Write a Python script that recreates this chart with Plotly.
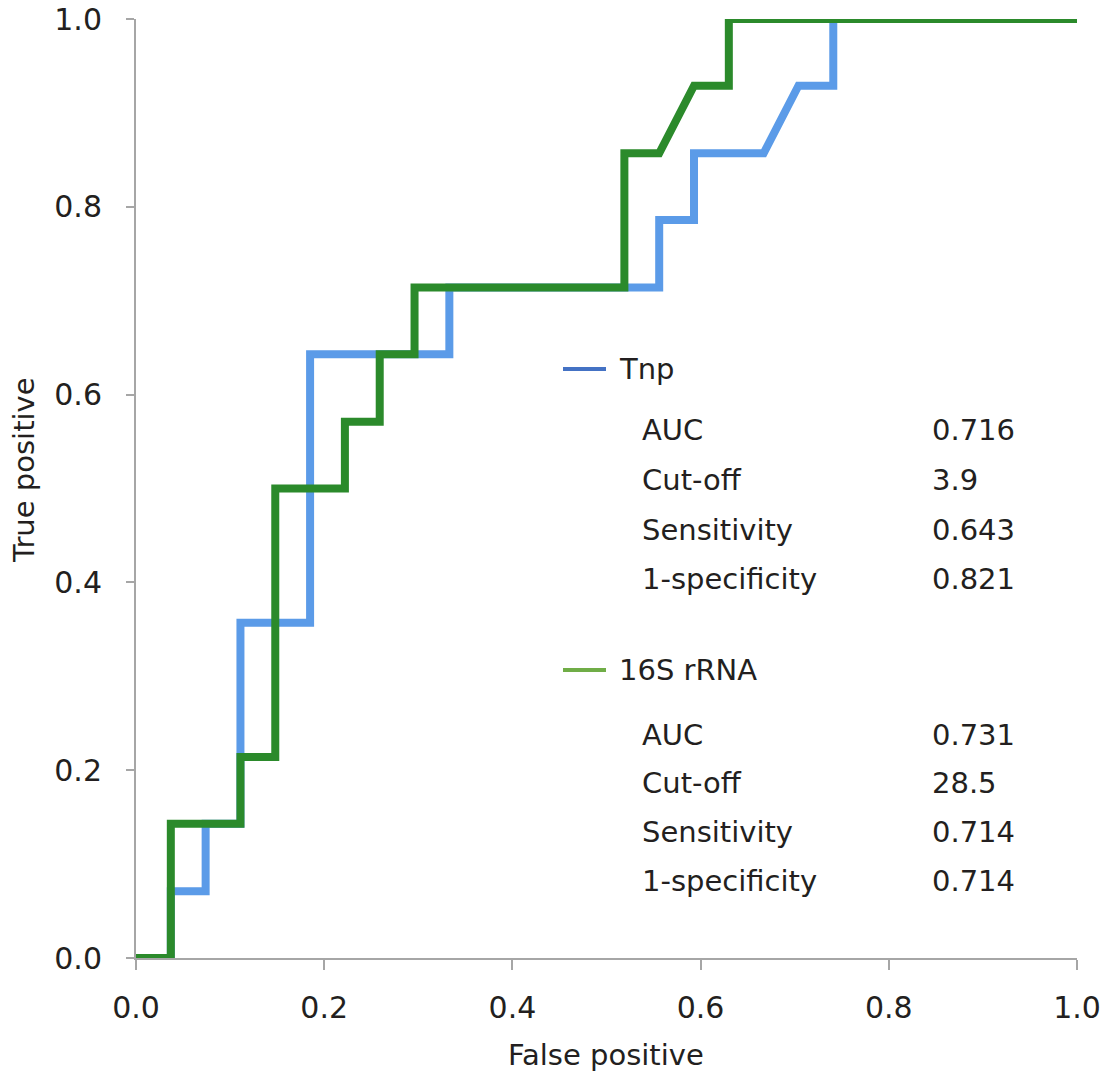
import plotly.graph_objects as go

# ROC step data (false positive rate, true positive rate)
tnp_fpr = [0, 0.037, 0.037, 0.074, 0.074, 0.111, 0.111, 0.185, 0.185, 0.333, 0.333,
           0.556, 0.556, 0.593, 0.593, 0.667, 0.704, 0.741, 0.741, 1.0]
tnp_tpr = [0, 0, 0.071, 0.071, 0.143, 0.143, 0.357, 0.357, 0.643, 0.643, 0.714,
           0.714, 0.786, 0.786, 0.857, 0.857, 0.929, 0.929, 1.0, 1.0]

rrna_fpr = [0, 0.037, 0.037, 0.111, 0.111, 0.148, 0.148, 0.222, 0.222, 0.259, 0.259,
            0.296, 0.296, 0.519, 0.519, 0.556, 0.593, 0.630, 0.630, 1.0]
rrna_tpr = [0, 0, 0.143, 0.143, 0.214, 0.214, 0.5, 0.5, 0.571, 0.571, 0.643,
            0.643, 0.714, 0.714, 0.857, 0.857, 0.929, 0.929, 1.0, 1.0]

series_names = ["Tnp", "16S rRNA"]
stat_labels = ["AUC", "Cut-off", "Sensitivity", "1-specificity"]
tnp_stats = ["0.716", "3.9", "0.643", "0.821"]
rrna_stats = ["0.731", "28.5", "0.714", "0.714"]

x_ticks = [0, 0.2, 0.4, 0.6, 0.8, 1.0]
y_ticks = [0, 0.2, 0.4, 0.6, 0.8, 1.0]

FONT = "DejaVu Sans"
TXT = "#231f20"
AXC = "#a6a6a6"

fig = go.Figure()
fig.add_trace(go.Scatter(x=tnp_fpr, y=tnp_tpr, mode="lines", name=series_names[0],
                         line=dict(color="#5b9be8", width=8), showlegend=False))
fig.add_trace(go.Scatter(x=rrna_fpr, y=rrna_tpr, mode="lines", name=series_names[1],
                         line=dict(color="#2b8a2b", width=8), showlegend=False))

# body margin is removed by post_script; target plot box: x 136..1077, y 19..958
OFF = 0
W, H = 1107, 1084
X0, X1, Y0, Y1 = 136, 1077, 19, 958
L, T = X0 - OFF, Y0 - OFF
R = W - L - (X1 - X0)
B = H - T - (Y1 - Y0)

def px(xp):
    return (xp - X0) / (X1 - X0)

def py(yp):
    return (Y1 - yp) / (Y1 - Y0)

annotations = []
shapes = []
legend_cols = ["#4472c4", "#70ad47"]
groups = [(series_names[0], tnp_stats, 369, [430, 480, 530, 579]),
          (series_names[1], rrna_stats, 670, [735, 783, 832, 881])]
SZ = 29
for i, (name, vals, yhead, rows) in enumerate(groups):
    shapes.append(dict(type="line", xref="paper", yref="paper",
                       x0=px(563), x1=px(606), y0=py(yhead), y1=py(yhead),
                       line=dict(color=legend_cols[i], width=4)))
    annotations.append(dict(xref="paper", yref="paper", x=px(617), y=py(yhead),
                            text=name, showarrow=False, xanchor="left", yanchor="middle",
                            font=dict(family=FONT, size=SZ, color=TXT)))
    for lab, val, yr in zip(stat_labels, vals, rows):
        annotations.append(dict(xref="paper", yref="paper", x=px(640), y=py(yr),
                                text=lab, showarrow=False, xanchor="left", yanchor="middle",
                                font=dict(family=FONT, size=SZ, color=TXT)))
        annotations.append(dict(xref="paper", yref="paper", x=px(930), y=py(yr),
                                text=val, showarrow=False, xanchor="left", yanchor="middle",
                                font=dict(family=FONT, size=SZ, color=TXT)))

# axis titles
annotations.append(dict(xref="paper", yref="paper", x=px(606), y=py(1055),
                        text="False positive", showarrow=False, xanchor="center", yanchor="middle",
                        font=dict(family=FONT, size=29, color=TXT)))
annotations.append(dict(xref="paper", yref="paper", x=px(24), y=py(470),
                        text="True positive", showarrow=False, xanchor="center", yanchor="middle",
                        textangle=-90, font=dict(family=FONT, size=29, color=TXT)))

fig.update_layout(
    width=W, height=H,
    margin=dict(l=L, r=R, t=T, b=B, autoexpand=False),
    paper_bgcolor="white", plot_bgcolor="white",
    font=dict(family=FONT, color=TXT),
    annotations=annotations, shapes=shapes,
    showlegend=False,
)
fig.update_xaxes(range=[0, 1], tickvals=x_ticks, ticktext=[f"{v:.1f}" for v in x_ticks],
                 showgrid=False, zeroline=False, showline=True, linecolor=AXC, linewidth=2,
                 ticks="outside", ticklen=10, tickcolor=AXC, tickwidth=2,
                 ticklabelstandoff=12, automargin=False, ticklabeloverflow="allow",
                 tickfont=dict(size=30, family=FONT, color=TXT))
fig.update_yaxes(range=[0, 1], tickvals=y_ticks, ticktext=[f"{v:.1f}" for v in y_ticks],
                 showgrid=False, zeroline=False, showline=True, linecolor=AXC, linewidth=2,
                 ticks="outside", ticklen=8, tickcolor=AXC, tickwidth=2,
                 ticklabelstandoff=18, automargin=False, ticklabeloverflow="allow",
                 tickfont=dict(size=30, family=FONT, color=TXT))

fig.write_html("out.html", config={"displayModeBar": False},
               post_script="document.body.style.margin='0';")
